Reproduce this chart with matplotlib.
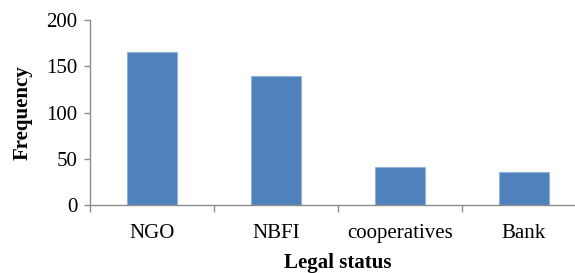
import matplotlib
matplotlib.use('Agg')
import matplotlib.pyplot as plt
import numpy as np

# data
categories = ['NGO', 'NBFI', 'cooperatives', 'Bank']
frequency = [165, 140, 41, 36]
y_ticks = [0, 50, 100, 150, 200]

plt.rcParams['font.family'] = ['Liberation Serif', 'DejaVu Serif']

fig = plt.figure(figsize=(5.75, 2.73), dpi=100)
# axis runs past the right edge of the picture, as in the original
ax = fig.add_axes([90 / 575, 68 / 273, 496 / 575, 185 / 273])

x = np.arange(len(categories))
ax.bar(x, frequency, width=0.4, color='#4F81BD', edgecolor='#93B3DA', linewidth=0.8)

ax.set_xlim(-0.5, len(categories) - 0.5)
ax.set_ylim(0, 200)
ax.set_yticks(y_ticks)
ax.tick_params(axis='y', labelsize=15, length=4, width=1, color='#8C8C8C', pad=5)

# boundary ticks without labels, category names centred below the bars
ax.set_xticks(np.arange(len(categories) + 1) - 0.5)
ax.set_xticklabels([])
ax.tick_params(axis='x', which='major', length=5, width=1, color='#8C8C8C')
ax.set_xticks(x, minor=True)
ax.set_xticklabels(categories, minor=True)
ax.tick_params(axis='x', which='minor', length=0, labelsize=15, pad=14)

for side in ['top', 'right']:
    ax.spines[side].set_visible(False)
for side in ['left', 'bottom']:
    ax.spines[side].set_color('#8C8C8C')
    ax.spines[side].set_linewidth(1)

ax.set_xlabel('Legal status', fontsize=15, fontweight='bold', labelpad=7)
ax.set_ylabel('Frequency', fontsize=15, fontweight='bold', labelpad=10)

fig.savefig('out.png', dpi=100)
